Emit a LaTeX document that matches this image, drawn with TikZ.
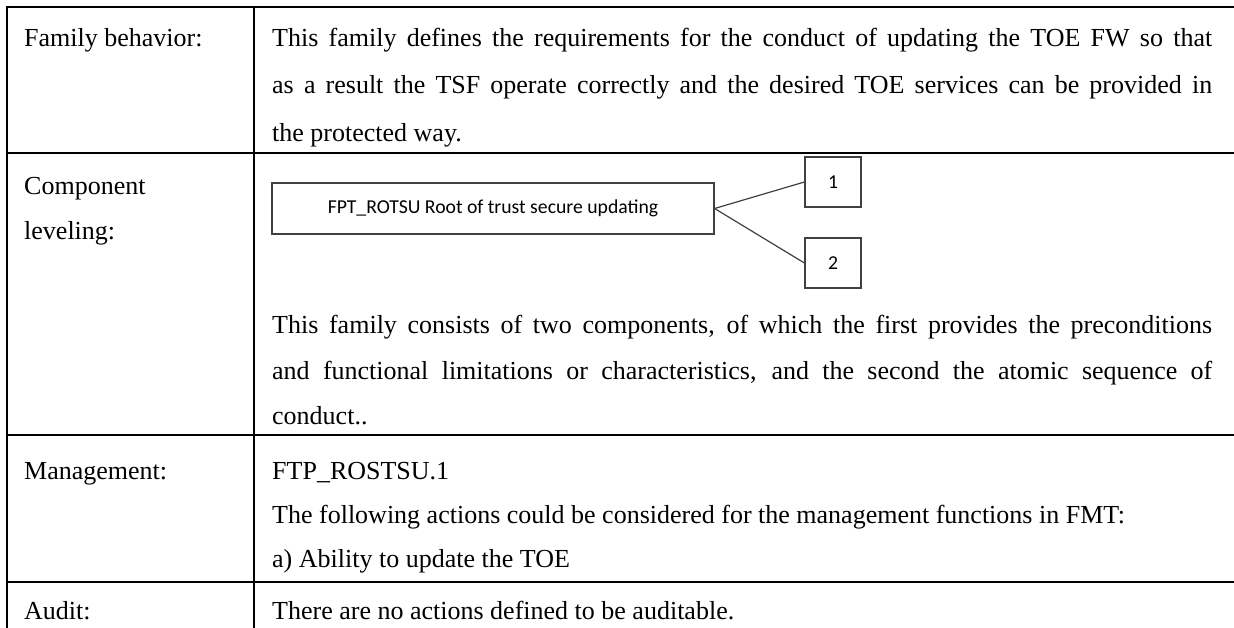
\documentclass[tikz,border=0pt]{standalone}
\usepackage{fontspec}
\setmainfont{Liberation Serif}
\newfontfamily\diagfont{Carlito}
\newcommand{\jline}[1]{\makebox[940pt][s]{#1}}
\begin{document}
\begin{tikzpicture}[x=1pt,y=-1pt,
  grid/.style={line width=2pt,black},
  body/.style={anchor=base west,inner sep=0pt,font=\fontsize{26}{30}\selectfont},
  dbox/.style={draw=black!75,line width=1.2pt,inner sep=0pt,font=\diagfont\fontsize{19.7}{22}\selectfont},
  dline/.style={draw=black!75,line width=1.2pt}]
\useasboundingbox (0,0) rectangle (1234,628);
% table rules
\draw[grid] (7,7) -- (1234,7);
\draw[grid] (7,153) -- (1234,153);
\draw[grid] (7,435) -- (1234,435);
\draw[grid] (7,582) -- (1234,582);
\draw[grid] (7,6) -- (7,628);
\draw[grid] (254,6) -- (254,628);
% left column labels
\node[body] (l1) at (24,47) {Family behavior:};
\node[body] (l2a) at (24,195) {Component};
\node[body] (l2b) at (24,240) {leveling:};
\node[body] (l3) at (24,479) {Management:};
\node[body] (l4) at (24,619) {Audit:};
% row 1
\node[body] (r1a) at (272,47) {\jline{This family defines the requirements for the conduct of updating the TOE FW so that}};
\node[body] (r1b) at (272,94) {\jline{as a result the TSF operate correctly and the desired TOE services can be provided in}};
\node[body] (r1c) at (272,142) {the protected way.};
% row 2 diagram
\node[dbox,minimum width=442pt,minimum height=51pt] (main) at (493,208.5) {FPT\_ROTSU Root of trust secure updating};
\node[dbox,minimum width=56pt,minimum height=50pt] (c1) at (833,182) {1};
\node[dbox,minimum width=56pt,minimum height=50pt] (c2) at (833,263) {2};
\draw[dline] (main.east) -- (c1.west);
\draw[dline] (main.east) -- (c2.west);
% row 2 text
\node[body] (r2a) at (272,334) {\jline{This family consists of two components, of which the first provides the preconditions}};
\node[body] (r2b) at (272,379) {\jline{and functional limitations or characteristics, and the second the atomic sequence of}};
\node[body] (r2c) at (272,424) {conduct..};
% row 3
\node[body] (r3a) at (272,479) {FTP\_ROSTSU.1};
\node[body] (r3b) at (272,523) {The following actions could be considered for the management functions in FMT:};
\node[body] (r3c) at (272,567) {a) Ability to update the TOE};
% row 4
\node[body] (r4) at (272,619) {There are no actions defined to be auditable.};
\end{tikzpicture}
\end{document}
